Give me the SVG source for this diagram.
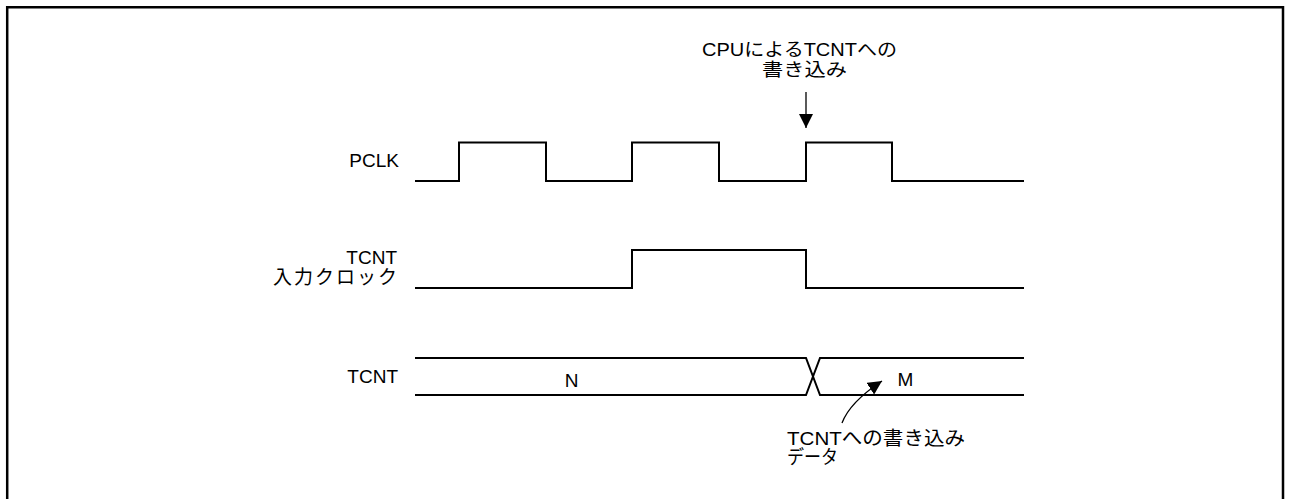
<svg xmlns="http://www.w3.org/2000/svg" width="1289" height="499" viewBox="0 0 1289 499">
<defs>
<style>
.t{font-family:"Liberation Sans","Noto Sans CJK JP",sans-serif;font-size:19px;fill:#000}
.s{font-size:18px}
.w{fill:none;stroke:#000;stroke-width:2}
.frame{fill:none;stroke:#000;stroke-width:2.5}
</style>
<marker id="ah2" viewBox="0 0 10 10" refX="10" refY="5" markerWidth="14" markerHeight="14" markerUnits="userSpaceOnUse" orient="auto">
<path d="M0,0 L10,5 L0,10 Z" fill="#000"/>
</marker>
</defs>
<rect width="1289" height="499" fill="#fff"/>
<path class="frame" d="M7.2,499 V7.2 H1283 V499"/>

<g id="pclk">
<text class="t" x="399" y="167" text-anchor="end">PCLK</text>
<path class="w" d="M415,181 H459 V142.5 H546 V181 H632 V142.5 H719 V181 H806 V142.5 H892 V181 H1024"/>
</g>

<g id="tcnt-clk">
<text class="t" x="397" y="263.5" text-anchor="end">TCNT</text>
<text class="t" x="273" y="284" textLength="124" lengthAdjust="spacing">入力クロック</text>
<path class="w" d="M415,288 H632 V250 H806 V288 H1024"/>
</g>

<g id="tcnt">
<text class="t" x="398" y="383" text-anchor="end">TCNT</text>
<path class="w" d="M415,358 H806 L820,395 H1024"/>
<path class="w" d="M415,395 H806 L820,358 H1024"/>
<text class="t" x="571.5" y="387" text-anchor="middle">N</text>
<text class="t" x="905.5" y="386" text-anchor="middle">M</text>
</g>

<g id="cpu-write">
<text class="t s" x="702" y="56" textLength="195" lengthAdjust="spacingAndGlyphs">CPUによるTCNTへの</text>
<text class="t s" x="762" y="76" textLength="85" lengthAdjust="spacingAndGlyphs">書き込み</text>
</g>

<g id="write-data">
<text class="t" x="787" y="445" textLength="178" lengthAdjust="spacingAndGlyphs">TCNTへの書き込み</text>
<text class="t" x="787" y="464" textLength="51" lengthAdjust="spacingAndGlyphs">データ</text>
</g>

<g id="connectors">
<path d="M806,92 V128" fill="none" stroke="#000" stroke-width="1.3" marker-end="url(#ah2)"/>
<path d="M842,423 Q850,402 882,381" fill="none" stroke="#000" stroke-width="1.3" marker-end="url(#ah2)"/>
</g>
</svg>
